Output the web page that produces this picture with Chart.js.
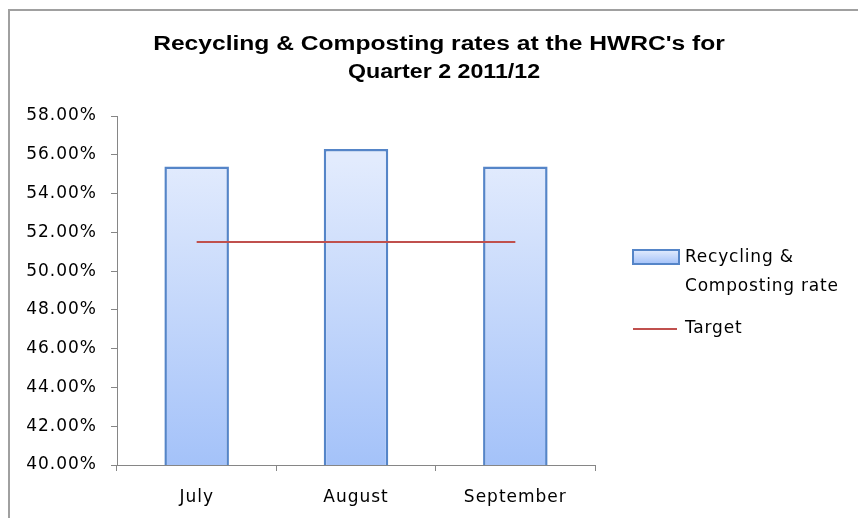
<!DOCTYPE html>
<html>
<head>
<meta charset="utf-8">
<script src="https://cdn.jsdelivr.net/npm/chart.js@4/dist/chart.umd.min.js"></script>
<style>
html,body{margin:0;padding:0;background:#fff;}
#wrap{width:858px;height:518px;position:relative;}
</style>
</head>
<body>
<div id="wrap"><canvas id="c" width="858" height="518"></canvas></div>
<script>
const categories = ['July', 'August', 'September'];
const recyclingRate = [55.4, 56.3, 55.4];
const target = [51.5, 51.5, 51.5];
const titleLines = ["Recycling & Composting rates at the HWRC's for", "Quarter 2 2011/12"];
const seriesNames = [['Recycling &', 'Composting rate'], ['Target']];
const yMin = 40, yMax = 58, yStep = 2;

const LABEL_FONT = '17px "DejaVu Sans", sans-serif';

function barGradient(ctx, top, bottom) {
  const g = ctx.createLinearGradient(0, top, 0, bottom);
  g.addColorStop(0, '#e2ebfd');
  g.addColorStop(1, '#a4c2f9');
  return g;
}

const framePlugin = {
  id: 'frame',
  beforeDraw(chart) {
    const ctx = chart.ctx;
    ctx.save();
    ctx.fillStyle = '#fff';
    ctx.fillRect(0, 0, chart.width, chart.height);
    ctx.strokeStyle = '#a0a0a0';
    ctx.lineWidth = 2;
    ctx.strokeRect(9, 10, chart.width + 20, chart.height + 20);
    ctx.restore();
    ctx.letterSpacing = '1px';
  }
};

const titlePlugin = {
  id: 'customTitle',
  afterDraw(chart) {
    const ctx = chart.ctx;
    ctx.save();
    ctx.letterSpacing = '0px';
    ctx.fillStyle = '#000';
    ctx.font = 'bold 20px "Liberation Sans", Arial, sans-serif';
    ctx.textAlign = 'center';
    ctx.textBaseline = 'alphabetic';
    ctx.save();
    ctx.translate(439, 50);
    ctx.scale(1.23, 1);
    ctx.fillText(titleLines[0], 0, 0);
    ctx.restore();
    ctx.save();
    ctx.translate(444, 78);
    ctx.scale(1.16, 1);
    ctx.fillText(titleLines[1], 0, 0);
    ctx.restore();
    ctx.restore();
  }
};

const legendPlugin = {
  id: 'customLegend',
  afterDraw(chart) {
    const ctx = chart.ctx;
    const ds0 = chart.data.datasets[0];
    const ds1 = chart.data.datasets[1];
    ctx.save();
    ctx.fillStyle = barGradient(ctx, 250, 264);
    ctx.fillRect(633, 250, 46, 14);
    ctx.strokeStyle = ds0.borderColor;
    ctx.lineWidth = 2;
    ctx.strokeRect(633, 250, 46, 14);
    ctx.strokeStyle = ds1.borderColor;
    ctx.lineWidth = 2;
    ctx.beginPath();
    ctx.moveTo(633, 329);
    ctx.lineTo(677, 329);
    ctx.stroke();
    ctx.fillStyle = '#000';
    ctx.font = LABEL_FONT;
    ctx.letterSpacing = '0.8px';
    ctx.textAlign = 'left';
    ctx.textBaseline = 'middle';
    ctx.fillText(seriesNames[0][0], 685, 258);
    ctx.fillText(seriesNames[0][1], 685, 287);
    ctx.fillText(seriesNames[1][0], 685, 329);
    ctx.restore();
  }
};

new Chart(document.getElementById('c'), {
  data: {
    labels: categories,
    datasets: [
      {
        type: 'bar',
        label: seriesNames[0].join(' '),
        data: recyclingRate,
        backgroundColor: (c) => {
          const ca = c.chart.chartArea;
          if (!ca) return '#c8daf9';
          return barGradient(c.chart.ctx, ca.top + 45, ca.bottom);
        },
        borderColor: '#5585c8',
        borderWidth: 2.5,
        borderSkipped: false,
        barPercentage: 0.81,
        categoryPercentage: 0.5,
        order: 2
      },
      {
        type: 'line',
        label: seriesNames[1][0],
        data: target,
        borderColor: '#c0504d',
        borderWidth: 2,
        pointRadius: 0,
        fill: false,
        order: 1
      }
    ]
  },
  options: {
    responsive: false,
    animation: false,
    layout: { padding: { left: 0, right: 263, top: 116, bottom: 0 } },
    plugins: {
      legend: { display: false },
      title: { display: false },
      tooltip: { enabled: false }
    },
    scales: {
      x: {
        type: 'category',
        offset: true,
        grid: { offset: true, drawOnChartArea: false, drawTicks: true, tickLength: 6, color: '#868686' },
        border: { color: '#868686', width: 1 },
        ticks: { color: '#000', font: { family: '"DejaVu Sans", sans-serif', size: 17 }, padding: 16 },
        afterFit(s) { s.height = 53; }
      },
      y: {
        min: yMin,
        max: yMax,
        grid: { drawOnChartArea: false, drawTicks: true, tickLength: 6, color: '#868686' },
        border: { color: '#868686', width: 1 },
        ticks: {
          stepSize: yStep,
          color: '#000',
          font: { family: '"DejaVu Sans", sans-serif', size: 17 },
          padding: 14,
          callback: (v) => Number(v).toFixed(2) + '%'
        },
        afterFit(s) { s.width = 117; }
      }
    }
  },
  plugins: [framePlugin, titlePlugin, legendPlugin]
});
</script>
</body>
</html>
